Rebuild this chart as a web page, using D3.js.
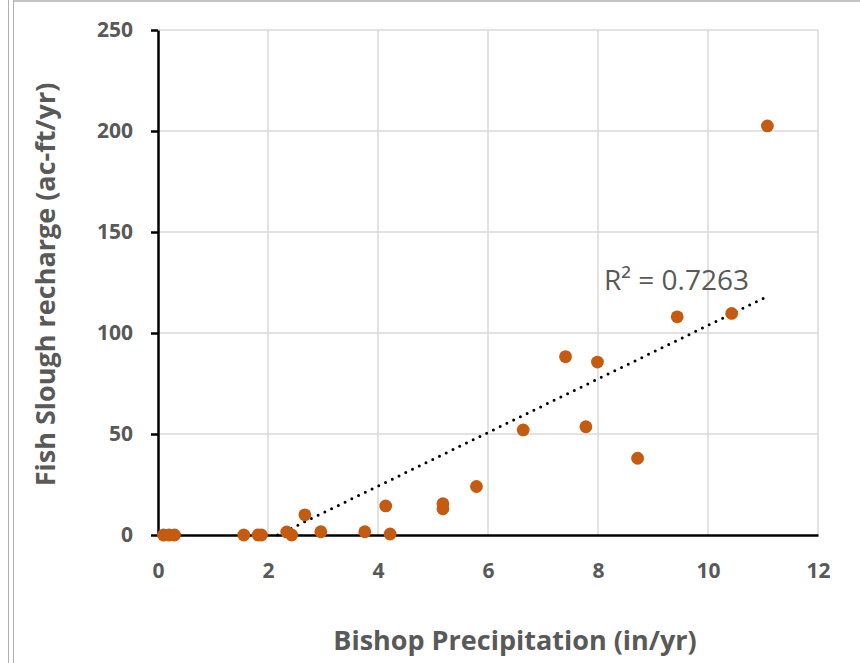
<!DOCTYPE html>
<html>
<head>
<meta charset="utf-8">
<script src="https://cdn.jsdelivr.net/npm/d3@7"></script>
<style>
  html, body { margin: 0; padding: 0; background: #fff; }
  svg { display: block; font-family: "Open Sans", sans-serif; }
</style>
</head>
<body>
<div id="chart"></div>
<script>
const width = 860;
const height = 663;
const margin = { top: 30, right: 42, bottom: 128, left: 158 };

// Bishop precipitation (in/yr)
const precip = [0.10, 0.20, 0.30, 1.56, 1.82, 1.88, 2.34, 2.43, 2.67, 2.96, 3.76, 4.14,
                4.22, 5.18, 5.18, 5.79, 6.64, 7.41, 7.78, 7.99, 8.72, 9.44, 10.43, 11.08];
// Fish Slough recharge (ac-ft/yr)
const recharge = [0, 0, 0, 0, 0, 0, 1.5, 0, 10, 1.6, 1.6, 14.4,
                  0.5, 15.5, 13, 24, 52, 88.3, 53.6, 85.6, 38, 108, 109.7, 202.5];
const xTicks = [0, 2, 4, 6, 8, 10, 12];
const yTicks = [0, 50, 100, 150, 200, 250];
const r2Label = 'R² = 0.7263';

const data = precip.map((p, i) => ({ x: p, y: recharge[i] }));

const svg = d3.select('#chart')
    .append('svg')
    .attr('width', width)
    .attr('height', height);

// chart frame lines
svg.append('line').attr('x1', 8.5).attr('x2', 8.5).attr('y1', 0).attr('y2', height)
    .attr('stroke', '#b0b0b0').attr('stroke-width', 1);
svg.append('line').attr('x1', 13.5).attr('x2', 13.5).attr('y1', 0).attr('y2', height)
    .attr('stroke', '#b0b0b0').attr('stroke-width', 1);
svg.append('line').attr('x1', 13).attr('x2', width).attr('y1', 1).attr('y2', 1)
    .attr('stroke', '#b0b0b0').attr('stroke-width', 1.5);

const x = d3.scaleLinear()
    .domain([0, 12])
    .range([margin.left, width - margin.right]);

const y = d3.scaleLinear()
    .domain([0, 250])
    .range([height - margin.bottom, margin.top]);

// grid
svg.append('g')
    .selectAll('line')
    .data(yTicks.slice(1))
    .join('line')
      .attr('x1', x(0)).attr('x2', x(12))
      .attr('y1', d => y(d)).attr('y2', d => y(d))
      .attr('stroke', '#d9d9d9').attr('stroke-width', 1.5);

svg.append('g')
    .selectAll('line')
    .data(xTicks.slice(1))
    .join('line')
      .attr('x1', d => x(d)).attr('x2', d => x(d))
      .attr('y1', y(0)).attr('y2', y(250))
      .attr('stroke', '#d9d9d9').attr('stroke-width', 1.5);

// axes
const xAxis = svg.append('g')
    .attr('transform', `translate(0, ${y(0)})`)
    .call(d3.axisBottom(x).tickValues(xTicks).tickSize(0).tickPadding(28));
xAxis.select('.domain').attr('stroke', '#000').attr('stroke-width', 2.5);
xAxis.selectAll('text')
    .attr('fill', '#595959').attr('font-size', '21px').attr('font-weight', 'bold')
    .attr('font-family', '"Open Sans", sans-serif');

const yAxis = svg.append('g')
    .attr('transform', `translate(${x(0)}, 0)`)
    .call(d3.axisLeft(y).tickValues(yTicks).tickSizeInner(7).tickSizeOuter(0).tickPadding(18));
yAxis.select('.domain').attr('stroke', '#000').attr('stroke-width', 2.5);
yAxis.selectAll('.tick line').attr('stroke', '#000').attr('stroke-width', 2.5);
yAxis.selectAll('text')
    .attr('fill', '#595959').attr('font-size', '21px').attr('font-weight', 'bold')
    .attr('font-family', '"Open Sans", sans-serif');

// linear trendline (least squares), clipped at y = 0
const mx = d3.mean(data, d => d.x);
const my = d3.mean(data, d => d.y);
const slope = d3.sum(data, d => (d.x - mx) * (d.y - my)) / d3.sum(data, d => (d.x - mx) ** 2);
const intercept = my - slope * mx;
const xStart = Math.max(d3.min(precip), -intercept / slope);
const xEnd = d3.max(precip);

svg.append('line')
    .attr('x1', x(xStart)).attr('y1', y(slope * xStart + intercept))
    .attr('x2', x(xEnd)).attr('y2', y(slope * xEnd + intercept))
    .attr('stroke', '#000')
    .attr('stroke-width', 3)
    .attr('stroke-linecap', 'round')
    .attr('stroke-dasharray', '0 7.5');

// points
svg.append('g')
    .attr('fill', '#c55a11')
    .selectAll('circle')
    .data(data)
    .join('circle')
      .attr('cx', d => x(d.x))
      .attr('cy', d => y(d.y))
      .attr('r', 6.4);

// R² label
svg.append('text')
    .attr('x', 604).attr('y', 290)
    .attr('fill', '#595959')
    .attr('font-size', '28px')
    .text(r2Label);

// axis titles
svg.append('text')
    .attr('x', 515).attr('y', 650)
    .attr('text-anchor', 'middle')
    .attr('fill', '#595959').attr('font-size', '27px').attr('font-weight', 'bold')
    .text('Bishop Precipitation (in/yr)');

svg.append('text')
    .attr('transform', `translate(55, ${(y(0) + y(250)) / 2 + 2}) rotate(-90)`)
    .attr('text-anchor', 'middle')
    .attr('fill', '#595959').attr('font-size', '27px').attr('font-weight', 'bold')
    .text('Fish Slough recharge (ac-ft/yr)');
</script>
</body>
</html>
